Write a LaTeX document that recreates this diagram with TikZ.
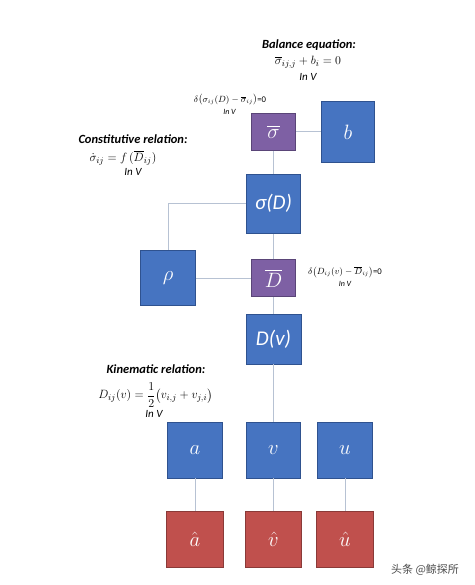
\documentclass[tikz,border=0pt]{standalone}
\usepackage{amsmath}
\usepackage{fontspec}
\setmainfont{Carlito}
\newfontfamily\cjk{Noto Sans CJK SC}
\definecolor{bfill}{HTML}{4674C1}
\definecolor{bdraw}{HTML}{2F528F}
\definecolor{pfill}{HTML}{7E60A4}
\definecolor{pdraw}{HTML}{5A4578}
\definecolor{rfill}{HTML}{C0504D}
\definecolor{rdraw}{HTML}{8A3A38}
\definecolor{lnk}{HTML}{B7C2D3}
\tikzset{
  box/.style={draw, line width=0.8pt, inner sep=0pt, text=white, font=\fontsize{21}{24}\selectfont},
  bluebox/.style={box, fill=bfill, draw=bdraw},
  purplebox/.style={box, fill=pfill, draw=pdraw},
  redbox/.style={box, fill=rfill, draw=rdraw},
  link/.style={draw=lnk, line width=1pt},
  ttl/.style={font=\fontsize{12.5}{14}\selectfont\bfseries\itshape, inner sep=0pt},
  eqn/.style={font=\fontsize{12.5}{14}\selectfont, inner sep=0pt},
  inv/.style={font=\fontsize{11}{13}\selectfont\itshape, inner sep=0pt},
  small/.style={font=\fontsize{8.7}{10}\selectfont, inner sep=0pt},
  smallinv/.style={font=\fontsize{8}{9}\selectfont\itshape, inner sep=0pt}
}
\begin{document}
\begin{tikzpicture}[x=1pt,y=-1pt]
\useasboundingbox (0,0) rectangle (474,585);
% boxes
\node[purplebox, minimum width=44pt, minimum height=37.5pt] (sb) at (273.5,131.8) {$\overline{\sigma}$};
\node[bluebox, minimum width=52.6pt, minimum height=61pt] (b) at (348,132.3) {$b$};
\node[bluebox, minimum width=54pt, minimum height=59.3pt] (sD) at (273.5,203.7) {\textit{σ(D)}};
\node[bluebox, minimum width=54.3pt, minimum height=55.7pt] (rho) at (168,278) {$\rho$};
\node[purplebox, minimum width=44.3pt, minimum height=37.4pt] (Db) at (273.5,278) {$\overline{D}$};
\node[bluebox, minimum width=55pt, minimum height=50pt] (Dv) at (273.5,339) {\textit{D(v)}};
\node[bluebox, minimum width=54.4pt, minimum height=55.3pt] (a) at (195,450.3) {$a$};
\node[bluebox, minimum width=54pt, minimum height=55.3pt] (v) at (273.5,450.3) {$v$};
\node[bluebox, minimum width=54.4pt, minimum height=55.3pt] (u) at (345,450.3) {$u$};
\node[redbox, minimum width=57pt, minimum height=55.6pt] (ah) at (195,539.5) {$\hat a$};
\node[redbox, minimum width=56.7pt, minimum height=55.6pt] (vh) at (273.5,539.5) {$\hat v$};
\node[redbox, minimum width=56.7pt, minimum height=55.6pt] (uh) at (345,539.5) {$\hat u$};
% connectors
\draw[link] (sb.east) -- (sb.east -| b.west);
\draw[link] (sb) -- (sD);
\draw[link] (sD) -- (Db);
\draw[link] (Db) -- (Dv);
\draw[link] (Dv) -- (v);
\draw[link] (sD.west) -| (rho.north);
\draw[link] (rho) -- (Db);
\draw[link] (a) -- (ah);
\draw[link] (v) -- (vh);
\draw[link] (u) -- (uh);
% annotations
\node[ttl] (bt) at (309,45) {Balance equation:};
\node[eqn] (be) at (308,62) {$\overline{\sigma}_{ij,j}+b_i=0$};
\node[inv] (bi) at (308,77) {In V};
\node[small] (se) at (230,100) {$\delta\bigl(\sigma_{ij}(D)-\overline{\sigma}_{ij}\bigr)$=0};
\node[smallinv] (si) at (229.5,112) {In V};
\node[ttl] (ct) at (133,139) {Constitutive relation:};
\node[eqn] (ce) at (123,158) {$\dot{\sigma}_{ij}=f\,(\overline{D}_{ij})$};
\node[inv] (ci) at (133,172) {In V};
\node[small] (de) at (345,272) {$\delta\bigl(D_{ij}(v)-\overline{D}_{ij}\bigr)$=0};
\node[smallinv] (di) at (345,284) {In V};
\node[ttl] (kt) at (156,369) {Kinematic relation:};
\node[eqn] (ke) at (155.5,395) {$D_{ij}(v)=\dfrac{1}{2}\bigl(v_{i,j}+v_{j,i}\bigr)$};
\node[inv] (ki) at (154,414) {In V};
\node[font=\cjk\fontsize{11}{13}\selectfont, text=black!70, inner sep=0pt] (wm) at (425,570) {头条 @鲸探所};
\end{tikzpicture}
\end{document}
